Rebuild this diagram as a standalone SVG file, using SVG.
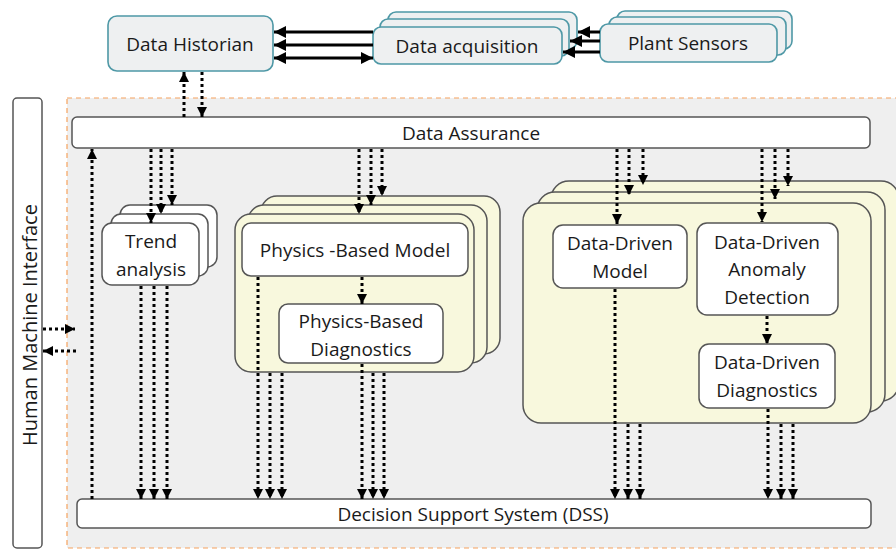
<svg xmlns="http://www.w3.org/2000/svg" width="896" height="550" viewBox="0 0 896 550">
<defs>
<style>
text{font-family:"Open Sans","Liberation Sans",sans-serif;font-size:19px;fill:#1a1a1a;text-anchor:middle;dominant-baseline:central}
.hmi{font-size:20px}
.top{fill:#eef0f1;stroke:#4e98a6;stroke-width:1.6}
.wbox{fill:#ffffff;stroke:#555555;stroke-width:1.5}
.ybox{fill:#f8f8dd;stroke:#555555;stroke-width:1.5}
.dot{fill:none;stroke:#000;stroke-width:3;stroke-dasharray:3 3}
.sol{fill:none;stroke:#000;stroke-width:3}
</style>
<marker id="ah" viewBox="0 0 10 10" refX="10" refY="5" markerWidth="10" markerHeight="11" markerUnits="userSpaceOnUse" orient="auto-start-reverse">
<path d="M0,0 L10,5 L0,10 Z" fill="#000"/>
</marker>
<marker id="ahs" viewBox="0 0 10 10" refX="10" refY="5" markerWidth="12" markerHeight="12" markerUnits="userSpaceOnUse" orient="auto-start-reverse">
<path d="M0,0 L10,5 L0,10 Z" fill="#000"/>
</marker>
</defs>
<rect width="896" height="550" fill="#ffffff"/>

<!-- dashed region -->
<rect id="region" x="67" y="98" width="840" height="450" fill="#efefef" stroke="#f5a25e" stroke-width="1.2" stroke-dasharray="5 4"/>

<g id="data-historian">
<rect class="top" x="108" y="16" width="165" height="55" rx="9"/>
<text x="190" y="44">Data Historian</text>
</g>

<g id="data-acquisition">
<rect class="top" x="388" y="12" width="189" height="37" rx="8"/>
<rect class="top" x="380" y="19" width="189" height="37" rx="8"/>
<rect class="top" x="373" y="27" width="189" height="37" rx="8"/>
<text x="467" y="46">Data acquisition</text>
</g>

<g id="plant-sensors">
<rect class="top" x="617" y="11" width="175" height="38" rx="8"/>
<rect class="top" x="609" y="17" width="177" height="38" rx="8"/>
<rect class="top" x="600" y="24" width="177" height="38" rx="8"/>
<text x="688" y="43">Plant Sensors</text>
</g>

<g id="hmi">
<rect class="wbox" x="13" y="98" width="29" height="450" rx="4"/>
<text class="hmi" x="0" y="0" transform="translate(29,325) rotate(-90)">Human Machine Interface</text>
</g>

<g id="data-assurance">
<rect class="wbox" x="72" y="117" width="798" height="31" rx="5"/>
<text x="471" y="133">Data Assurance</text>
</g>

<g id="dss">
<rect class="wbox" x="77" y="499" width="794" height="29" rx="5"/>
<text x="473" y="514">Decision Support System (DSS)</text>
</g>

<g id="trend-analysis">
<rect class="wbox" x="120" y="205" width="97" height="62" rx="10"/>
<rect class="wbox" x="111" y="214" width="97" height="62" rx="10"/>
<rect class="wbox" x="102" y="223" width="97" height="62" rx="10"/>
<text x="151" y="241">Trend</text>
<text x="151" y="269">analysis</text>
</g>

<g id="physics-stack">
<rect class="ybox" x="261" y="196" width="239" height="158" rx="16"/>
<rect class="ybox" x="248" y="205" width="239" height="158" rx="16"/>
<rect class="ybox" x="235" y="214" width="239" height="158" rx="16"/>
</g>
<g id="physics-model">
<rect class="wbox" x="242" y="223" width="226" height="53" rx="9"/>
<text x="355" y="250">Physics -Based Model</text>
</g>
<g id="physics-diagnostics">
<rect class="wbox" x="279" y="304" width="164" height="59" rx="9"/>
<text x="361" y="321">Physics-Based</text>
<text x="361" y="349">Diagnostics</text>
</g>

<g id="data-driven-stack">
<rect class="ybox" x="551" y="181" width="348" height="220" rx="18"/>
<rect class="ybox" x="537" y="192" width="348" height="220" rx="18"/>
<rect class="ybox" x="523" y="203" width="348" height="220" rx="18"/>
</g>
<g id="dd-model">
<rect class="wbox" x="553" y="225" width="134" height="63" rx="10"/>
<text x="620" y="243">Data-Driven</text>
<text x="620" y="271">Model</text>
</g>
<g id="dd-anomaly">
<rect class="wbox" x="697" y="223" width="141" height="92" rx="10"/>
<text x="767" y="242">Data-Driven</text>
<text x="767" y="269">Anomaly</text>
<text x="767" y="297">Detection</text>
</g>
<g id="dd-diagnostics">
<rect class="wbox" x="699" y="344" width="136" height="64" rx="10"/>
<text x="767" y="362">Data-Driven</text>
<text x="767" y="390">Diagnostics</text>
</g>

<g id="connectors">
<!-- top solid arrows -->
<line class="sol" x1="373" y1="32" x2="274" y2="32" marker-end="url(#ahs)"/>
<line class="sol" x1="373" y1="45" x2="274" y2="45" marker-end="url(#ahs)"/>
<line class="sol" x1="274" y1="58" x2="373" y2="58" marker-start="url(#ahs)" marker-end="url(#ahs)"/>
<line class="sol" x1="600" y1="32" x2="578" y2="32" marker-end="url(#ahs)"/>
<line class="sol" x1="600" y1="41" x2="570" y2="41" marker-end="url(#ahs)"/>
<line class="sol" x1="600" y1="52" x2="563" y2="52" marker-end="url(#ahs)"/>

<!-- historian <-> assurance -->
<line class="dot" x1="184" y1="117" x2="184" y2="72" marker-end="url(#ah)"/>
<line class="dot" x1="202" y1="72" x2="202" y2="117" marker-end="url(#ah)"/>

<!-- HMI -->
<line class="dot" x1="43" y1="329" x2="75" y2="329" marker-end="url(#ah)"/>
<line class="dot" x1="76" y1="351" x2="43" y2="351" marker-end="url(#ah)"/>

<!-- feedback DSS -> assurance -->
<line class="dot" x1="92" y1="499" x2="92" y2="149" marker-end="url(#ah)"/>

<!-- trend inputs -->
<line class="dot" x1="151" y1="149" x2="151" y2="223" marker-end="url(#ah)"/>
<line class="dot" x1="161" y1="149" x2="161" y2="214" marker-end="url(#ah)"/>
<line class="dot" x1="172" y1="149" x2="172" y2="205" marker-end="url(#ah)"/>
<!-- trend outputs -->
<line class="dot" x1="141" y1="286" x2="141" y2="499" marker-end="url(#ah)"/>
<line class="dot" x1="154" y1="286" x2="154" y2="499" marker-end="url(#ah)"/>
<line class="dot" x1="167" y1="286" x2="167" y2="499" marker-end="url(#ah)"/>

<!-- physics inputs -->
<line class="dot" x1="359" y1="149" x2="359" y2="214" marker-end="url(#ah)"/>
<line class="dot" x1="371" y1="149" x2="371" y2="205" marker-end="url(#ah)"/>
<line class="dot" x1="382" y1="149" x2="382" y2="196" marker-end="url(#ah)"/>
<line class="dot" x1="362" y1="277" x2="362" y2="304" marker-end="url(#ah)"/>
<!-- physics outputs -->
<line class="dot" x1="258" y1="277" x2="258" y2="499" marker-end="url(#ah)"/>
<line class="dot" x1="270" y1="373" x2="270" y2="499" marker-end="url(#ah)"/>
<line class="dot" x1="282" y1="373" x2="282" y2="499" marker-end="url(#ah)"/>
<line class="dot" x1="362" y1="364" x2="362" y2="499" marker-end="url(#ah)"/>
<line class="dot" x1="373" y1="373" x2="373" y2="499" marker-end="url(#ah)"/>
<line class="dot" x1="384" y1="373" x2="384" y2="499" marker-end="url(#ah)"/>

<!-- data-driven inputs -->
<line class="dot" x1="617" y1="149" x2="617" y2="224" marker-end="url(#ah)"/>
<line class="dot" x1="629" y1="149" x2="629" y2="195" marker-end="url(#ah)"/>
<line class="dot" x1="643" y1="149" x2="643" y2="185" marker-end="url(#ah)"/>
<line class="dot" x1="762" y1="149" x2="762" y2="222" marker-end="url(#ah)"/>
<line class="dot" x1="775" y1="149" x2="775" y2="199" marker-end="url(#ah)"/>
<line class="dot" x1="788" y1="149" x2="788" y2="186" marker-end="url(#ah)"/>
<line class="dot" x1="767" y1="316" x2="767" y2="344" marker-end="url(#ah)"/>
<!-- data-driven outputs -->
<line class="dot" x1="615" y1="289" x2="615" y2="499" marker-end="url(#ah)"/>
<line class="dot" x1="628" y1="424" x2="628" y2="499" marker-end="url(#ah)"/>
<line class="dot" x1="640" y1="424" x2="640" y2="499" marker-end="url(#ah)"/>
<line class="dot" x1="768" y1="409" x2="768" y2="499" marker-end="url(#ah)"/>
<line class="dot" x1="781" y1="424" x2="781" y2="499" marker-end="url(#ah)"/>
<line class="dot" x1="793" y1="424" x2="793" y2="499" marker-end="url(#ah)"/>
</g>
</svg>
